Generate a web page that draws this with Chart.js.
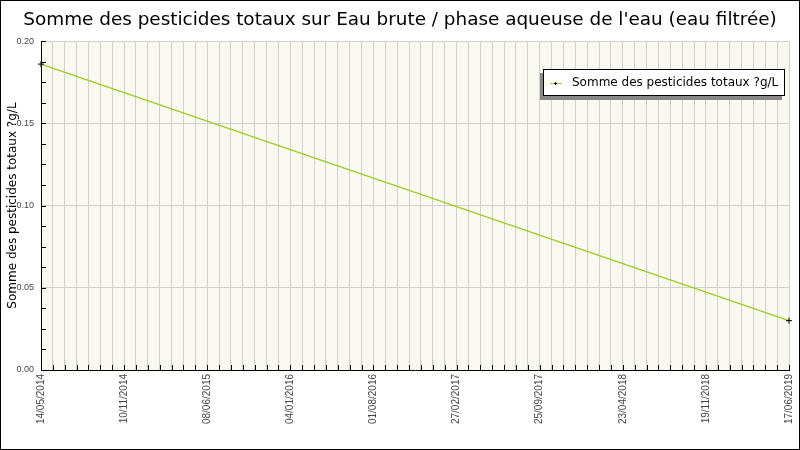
<!DOCTYPE html>
<html>
<head>
<meta charset="utf-8">
<script src="https://cdn.jsdelivr.net/npm/chart.js@4"></script>
<style>
  html, body { margin: 0; padding: 0; background: #fff; }
  canvas { display: block; }
</style>
</head>
<body>
<canvas id="canvas" width="800" height="450"></canvas>
<script>
// axis labels (dates shown under the x axis)
var xLabels = ['14/05/2014', '10/11/2014', '08/06/2015', '04/01/2016', '01/08/2016',
               '27/02/2017', '25/09/2017', '23/04/2018', '19/11/2018', '17/06/2019'];
var minorPerLabel = 7;              // minor grid steps between two date labels
var yMajorTicks = [0, 0.05, 0.10, 0.15, 0.20];
var yMinorPerMajor = 4;

// series
var seriesName = 'Somme des pesticides totaux ?g/L';
var seriesDates = ['14/05/2014', '17/06/2019'];
var seriesValues = [0.186, 0.030];

var points = seriesDates.map(function (d, i) {
    return { x: xLabels.indexOf(d) * minorPerLabel, y: seriesValues[i] };
});
var xMax = (xLabels.length - 1) * minorPerLabel;
var yStep = (yMajorTicks[1] - yMajorTicks[0]) / yMinorPerMajor;

function isMajorY(v) {
    return yMajorTicks.some(function (t) { return Math.abs(t - v) < 1e-9; });
}

var framePlugin = {
    id: 'frame',
    beforeDraw: function (chart) {
        var c = chart.ctx, a = chart.chartArea;
        c.save();
        c.fillStyle = '#ffffff';
        c.fillRect(0, 0, chart.width, chart.height);
        c.fillStyle = '#f9f9f1';
        c.fillRect(a.left, a.top, a.right - a.left, a.bottom - a.top);
        c.restore();
    },
    afterDatasetsDraw: function (chart) {
        // small ticks pointing into the plot
        var c = chart.ctx, a = chart.chartArea;
        var xs = chart.scales.x, ys = chart.scales.y;
        c.save();
        c.strokeStyle = '#000';
        c.lineWidth = 1;
        c.beginPath();
        for (var i = 0; i <= xMax; i++) {
            var px = Math.round(xs.getPixelForValue(i)) + 0.5;
            c.moveTo(px, a.bottom);
            c.lineTo(px, a.bottom - 5);
        }
        var yMax = yMajorTicks[yMajorTicks.length - 1];
        for (var j = 0; j * yStep <= yMax + 1e-9; j++) {
            var py = Math.round(ys.getPixelForValue(j * yStep)) + 0.5;
            c.moveTo(a.left, py);
            c.lineTo(a.left + 5, py);
        }
        c.stroke();

        // legend box
        var lx = 543, ly = 69, lw = 242, lh = 27;
        c.fillStyle = '#888888';
        c.fillRect(lx - 3, ly + 4, lw, lh);
        c.fillStyle = '#ffffff';
        c.fillRect(lx, ly, lw, lh);
        c.strokeStyle = '#000';
        c.strokeRect(lx + 0.5, ly + 0.5, lw - 1, lh - 1);
        var my = ly + 14;
        c.strokeStyle = '#a0cc20';
        c.beginPath();
        c.moveTo(lx + 7, my + 0.5);
        c.lineTo(lx + 19, my + 0.5);
        c.stroke();
        c.strokeStyle = '#000';
        c.beginPath();
        c.moveTo(lx + 12.5, my - 1);
        c.lineTo(lx + 12.5, my + 2);
        c.moveTo(lx + 11, my + 0.5);
        c.lineTo(lx + 14, my + 0.5);
        c.stroke();
        c.fillStyle = '#000';
        c.font = '12px "DejaVu Sans"';
        c.textBaseline = 'middle';
        c.fillText(chart.data.datasets[0].label, lx + 29, my);
        c.restore();
    },
    afterDraw: function (chart) {
        var c = chart.ctx;
        c.save();
        c.strokeStyle = '#000';
        c.lineWidth = 1;
        c.strokeRect(0.5, 0.5, chart.width - 1, chart.height - 1);
        c.restore();
    }
};

new Chart(document.getElementById('canvas'), {
    type: 'line',
    data: {
        datasets: [{
            label: seriesName,
            data: points,
            borderColor: '#a0cc20',
            borderWidth: 1.5,
            pointStyle: 'cross',
            pointRadius: 3,
            pointBorderColor: '#000',
            pointBorderWidth: 1,
            pointHoverRadius: 3,
            tension: 0,
            clip: false
        }]
    },
    options: {
        responsive: false,
        devicePixelRatio: 1,
        animation: false,
        layout: { padding: 0 },
        plugins: {
            legend: { display: false },
            tooltip: { enabled: false },
            title: {
                display: true,
                text: 'Somme des pesticides totaux sur Eau brute / phase aqueuse de l\'eau (eau filtrée)',
                color: '#000',
                font: { family: 'DejaVu Sans', size: 18.4, weight: 'normal', lineHeight: 1.2 },
                padding: { top: 9, bottom: 10 }
            }
        },
        scales: {
            x: {
                type: 'linear',
                min: 0,
                max: xMax,
                afterBuildTicks: function (scale) {
                    var t = [];
                    for (var i = 0; i <= xMax; i++) t.push({ value: i });
                    scale.ticks = t;
                },
                afterFit: function (scale) {
                    scale.height = 80;
                    scale.paddingLeft = 0;
                    scale.paddingRight = 11;
                },
                grid: { color: '#d0d0d0', drawTicks: false },
                border: { color: '#000', width: 1 },
                ticks: {
                    autoSkip: false,
                    minRotation: 90,
                    maxRotation: 90,
                    padding: 4,
                    color: '#444',
                    font: { family: 'Liberation Sans', size: 10 },
                    callback: function (v) {
                        return v % minorPerLabel === 0 ? xLabels[v / minorPerLabel] : '';
                    }
                }
            },
            y: {
                min: yMajorTicks[0],
                max: yMajorTicks[yMajorTicks.length - 1],
                afterBuildTicks: function (scale) {
                    var t = [];
                    for (var j = 0; j * yStep <= scale.max + 1e-9; j++) t.push({ value: j * yStep });
                    scale.ticks = t;
                },
                afterFit: function (scale) { scale.width = 41; },
                grid: {
                    drawTicks: false,
                    color: function (ctx) {
                        return ctx.tick && isMajorY(ctx.tick.value) ? '#d0d0d0' : 'rgba(0,0,0,0)';
                    }
                },
                border: { color: '#000', width: 1 },
                title: {
                    display: true,
                    text: seriesName,
                    color: '#000',
                    font: { family: 'DejaVu Sans', size: 12 },
                    padding: { top: 6, bottom: 0 }
                },
                ticks: {
                    autoSkip: false,
                    padding: 7,
                    color: '#444',
                    font: { family: 'Liberation Sans', size: 9 },
                    callback: function (v) {
                        return isMajorY(v) ? v.toFixed(2) : '';
                    }
                }
            }
        }
    },
    plugins: [framePlugin]
});
</script>
</body>
</html>
